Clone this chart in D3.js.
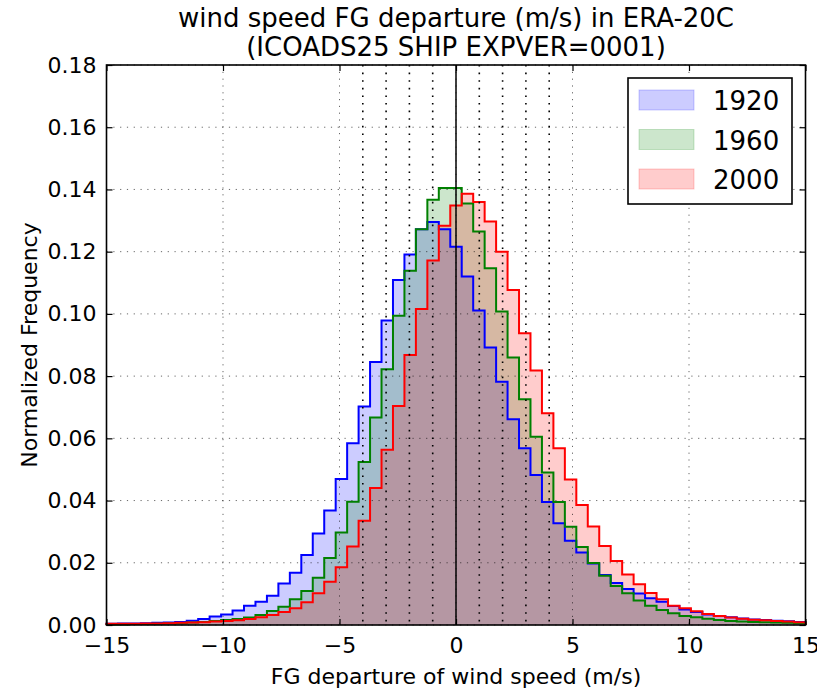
<!DOCTYPE html>
<html>
<head>
<meta charset="utf-8">
<script src="https://cdn.jsdelivr.net/npm/d3@7"></script>
<style>
  body { margin: 0; background: #fff; }
  text { font-family: "DejaVu Sans", sans-serif; fill: #000; }
</style>
</head>
<body>
<div id="chart"></div>
<script>
// series labels and colours
var years = ["1920", "1960", "2000"];
var seriesColors = ["#0000ff", "#008000", "#ff0000"];

// normalized frequency per bin (61 bins between -15 and 15 m/s)
var freq1920 = [0.0004, 0.0005, 0.0005, 0.0006, 0.0007, 0.0008, 0.0010, 0.0014, 0.0019, 0.0027,
  0.0034, 0.0047, 0.0062, 0.0075, 0.0094, 0.0133, 0.0168, 0.0225, 0.0294, 0.0368,
  0.0469, 0.0584, 0.0702, 0.0845, 0.0979, 0.1109, 0.1191, 0.1272, 0.1295, 0.1272,
  0.1216, 0.1120, 0.1011, 0.0892, 0.0782, 0.0661, 0.0568, 0.0482, 0.0395, 0.0327,
  0.0271, 0.0233, 0.0198, 0.0161, 0.0135, 0.0116, 0.0101, 0.0086, 0.0075, 0.0061,
  0.0050, 0.0042, 0.0034, 0.0029, 0.0025, 0.0021, 0.0018, 0.0016, 0.0014, 0.0012, 0.0010];
var freq1960 = [0.0002, 0.0002, 0.0003, 0.0003, 0.0004, 0.0005, 0.0006, 0.0008, 0.0010, 0.0013,
  0.0016, 0.0019, 0.0024, 0.0032, 0.0045, 0.0059, 0.0083, 0.0109, 0.0152, 0.0215,
  0.0297, 0.0396, 0.0524, 0.0667, 0.0822, 0.0994, 0.1139, 0.1272, 0.1367, 0.1405,
  0.1405, 0.1355, 0.1265, 0.1147, 0.1008, 0.0860, 0.0726, 0.0605, 0.0490, 0.0395,
  0.0316, 0.0251, 0.0199, 0.0158, 0.0125, 0.0102, 0.0079, 0.0062, 0.0048, 0.0038,
  0.0029, 0.0025, 0.0020, 0.0016, 0.0013, 0.0011, 0.0010, 0.0009, 0.0008, 0.0007, 0.0006];
var freq2000 = [0.0004, 0.0004, 0.0004, 0.0005, 0.0005, 0.0006, 0.0007, 0.0008, 0.0009, 0.0011,
  0.0013, 0.0015, 0.0019, 0.0025, 0.0032, 0.0042, 0.0054, 0.0073, 0.0102, 0.0139,
  0.0186, 0.0252, 0.0335, 0.0440, 0.0563, 0.0704, 0.0868, 0.1016, 0.1172, 0.1283,
  0.1348, 0.1386, 0.1360, 0.1297, 0.1200, 0.1077, 0.0938, 0.0818, 0.0681, 0.0568,
  0.0468, 0.0386, 0.0317, 0.0254, 0.0206, 0.0162, 0.0131, 0.0103, 0.0083, 0.0062,
  0.0054, 0.0044, 0.0035, 0.0029, 0.0024, 0.0020, 0.0017, 0.0015, 0.0013, 0.0011, 0.0009];

var xTicks = [-15, -10, -5, 0, 5, 10, 15];
var yTicks = [0, 0.02, 0.04, 0.06, 0.08, 0.10, 0.12, 0.14, 0.16, 0.18];
var markerLines = [-4, -3, -2, -1, 1, 2, 3, 4];
var xDomain = [-15, 15];

var W = 817, H = 690;
var plot = {left: 106.5, right: 805.5, top: 65, bottom: 625};

var xScale = d3.scaleLinear().domain(xDomain).range([plot.left, plot.right]);
var yScale = d3.scaleLinear().domain([0, 0.18]).range([plot.bottom, plot.top]);

var svg = d3.select("#chart").append("svg")
    .attr("width", W).attr("height", H)
    .style("background", "#fff");

// bin edges, equally spaced over the x range
var nBins = freq1920.length;
var edges = d3.range(nBins + 1).map(function(k) {
  return xDomain[0] + k * (xDomain[1] - xDomain[0]) / nBins;
});

function stepPoints(vals) {
  var pts = vals.map(function(v, i) { return [edges[i], v]; });
  pts.push([edges[nBins], vals[nBins - 1]]);
  return pts;
}

var area = d3.area().curve(d3.curveStepAfter)
    .x(function(d) { return xScale(d[0]); })
    .y0(yScale(0))
    .y1(function(d) { return yScale(d[1]); });
var line = d3.line().curve(d3.curveStepAfter)
    .x(function(d) { return xScale(d[0]); })
    .y(function(d) { return yScale(d[1]); });

var series = [freq1920, freq1960, freq2000];

// filled histograms
svg.append("g").selectAll("path").data(series).enter().append("path")
    .attr("d", function(d) { return area(stepPoints(d)); })
    .attr("fill", function(d, i) { return seriesColors[i]; })
    .attr("fill-opacity", 0.2)
    .attr("stroke", "none");

// major grid
var grid = svg.append("g");
grid.selectAll(".gx").data(xTicks).enter().append("line")
    .attr("x1", function(d) { return xScale(d); }).attr("x2", function(d) { return xScale(d); })
    .attr("y1", plot.top).attr("y2", plot.bottom);
grid.selectAll(".gy").data(yTicks).enter().append("line")
    .attr("y1", function(d) { return yScale(d); }).attr("y2", function(d) { return yScale(d); })
    .attr("x1", plot.left).attr("x2", plot.right);
grid.selectAll("line")
    .attr("stroke", "#000").attr("stroke-width", 0.8)
    .attr("stroke-dasharray", "1.2,5.6").attr("stroke-opacity", 0.75);

// step outlines
svg.append("g").selectAll("path").data(series).enter().append("path")
    .attr("d", function(d) {
      var p = stepPoints(d);
      return "M" + xScale(p[0][0]) + "," + yScale(0) + "L" + line(p).slice(1) + "L" + xScale(p[p.length - 1][0]) + "," + yScale(0);
    })
    .attr("fill", "none")
    .attr("stroke", function(d, i) { return seriesColors[i]; })
    .attr("stroke-width", 2);

// dotted marker lines and the zero line
svg.append("g").selectAll("line").data(markerLines).enter().append("line")
    .attr("x1", function(d) { return xScale(d); }).attr("x2", function(d) { return xScale(d); })
    .attr("y1", plot.top).attr("y2", plot.bottom)
    .attr("stroke", "#000").attr("stroke-width", 1.6)
    .attr("stroke-dasharray", "1.6,6").attr("stroke-linecap", "butt");
svg.append("line")
    .attr("x1", xScale(0)).attr("x2", xScale(0))
    .attr("y1", plot.top).attr("y2", plot.bottom)
    .attr("stroke", "#000").attr("stroke-width", 1.5);

// axes with inward ticks on all sides
var fmtX = d3.format("d"), fmtY = d3.format(".2f");
var axB = svg.append("g").attr("transform", "translate(0," + plot.bottom + ")")
    .call(d3.axisBottom(xScale).tickValues(xTicks).tickFormat(fmtX).tickSize(-6).tickPadding(12));
var axL = svg.append("g").attr("transform", "translate(" + plot.left + ",0)")
    .call(d3.axisLeft(yScale).tickValues(yTicks).tickFormat(fmtY).tickSize(-6).tickPadding(10));
var axT = svg.append("g").attr("transform", "translate(0," + plot.top + ")")
    .call(d3.axisTop(xScale).tickValues(xTicks).tickFormat("").tickSize(-6));
var axR = svg.append("g").attr("transform", "translate(" + plot.right + ",0)")
    .call(d3.axisRight(yScale).tickValues(yTicks).tickFormat("").tickSize(-6));
[axB, axL, axT, axR].forEach(function(a) {
  a.select(".domain").remove();
  a.selectAll(".tick line").attr("stroke", "#000").attr("stroke-width", 1.2);
  a.selectAll("text").style("font-family", "DejaVu Sans").style("font-size", "22px").attr("fill", "#000");
});

// frame
svg.append("rect")
    .attr("x", plot.left).attr("y", plot.top)
    .attr("width", plot.right - plot.left).attr("height", plot.bottom - plot.top)
    .attr("fill", "none").attr("stroke", "#000").attr("stroke-width", 1.6);

// titles and axis labels
svg.append("text").attr("x", 456).attr("y", 27).attr("text-anchor", "middle")
    .style("font-size", "26px").text("wind speed FG departure (m/s) in ERA-20C");
svg.append("text").attr("x", 456).attr("y", 56).attr("text-anchor", "middle")
    .style("font-size", "26px").text("(ICOADS25 SHIP EXPVER=0001)");
svg.append("text").attr("x", 456).attr("y", 684).attr("text-anchor", "middle")
    .style("font-size", "22px").text("FG departure of wind speed (m/s)");
svg.append("text").attr("transform", "translate(37," + ((plot.top + plot.bottom) / 2) + ") rotate(-90)")
    .attr("text-anchor", "middle")
    .style("font-size", "22px").text("Normalized Frequency");

// legend
var leg = svg.append("g").attr("transform", "translate(628,78)");
leg.append("rect").attr("width", 164).attr("height", 126)
    .attr("fill", "#fff").attr("stroke", "#000").attr("stroke-width", 1.6);
var entry = leg.selectAll(".entry").data(years).enter().append("g")
    .attr("transform", function(d, i) { return "translate(0," + (12 + i * 39.5) + ")"; });
entry.append("rect").attr("x", 11).attr("width", 55).attr("height", 20)
    .attr("fill", function(d, i) { return seriesColors[i]; }).attr("fill-opacity", 0.2)
    .attr("stroke", function(d, i) { return seriesColors[i]; }).attr("stroke-opacity", 0.2);
entry.append("text").attr("x", 85).attr("y", 20)
    .style("font-size", "26px").text(function(d) { return d; });
</script>
</body>
</html>
